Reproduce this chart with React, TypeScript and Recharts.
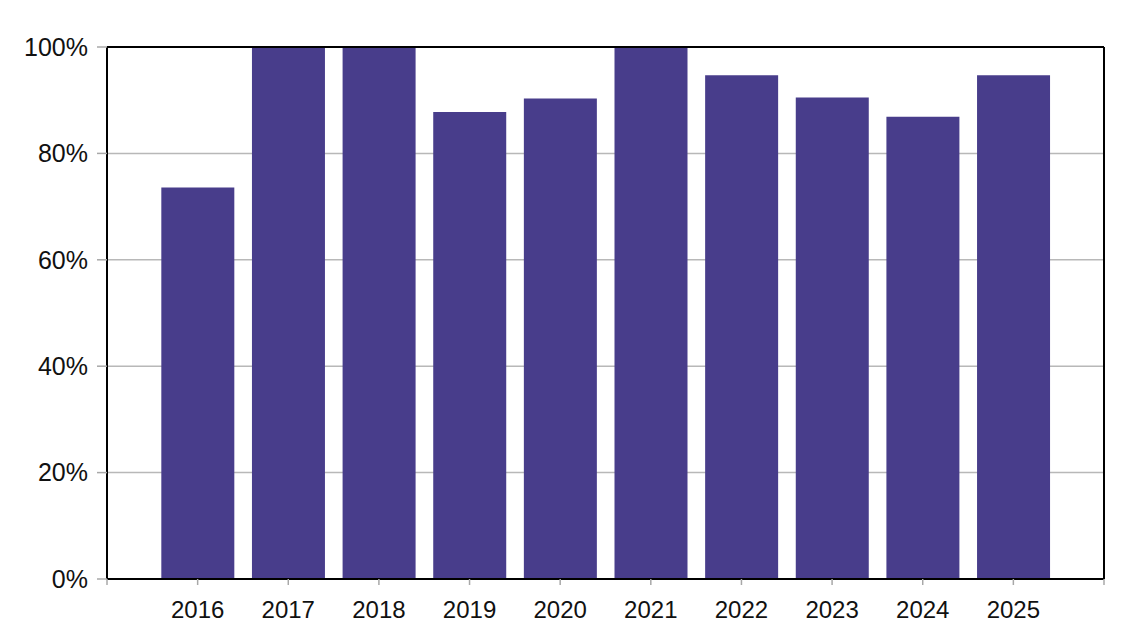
import { BarChart, Bar, XAxis, YAxis, CartesianGrid, ReferenceLine } from "recharts";

const years = [2016, 2017, 2018, 2019, 2020, 2021, 2022, 2023, 2024, 2025];
const shares = [73.6, 100, 100, 87.8, 90.3, 100, 94.7, 90.5, 86.9, 94.7];
const xTicks = [2015, 2016, 2017, 2018, 2019, 2020, 2021, 2022, 2023, 2024, 2025, 2026];
const yTicks = [0, 20, 40, 60, 80, 100];

const data = years.map((year, i) => ({ year, share: shares[i] }));

const font = "'Liberation Sans', Arial, sans-serif";

export default function App() {
  return (
    <div style={{ fontFamily: font }}>
      <BarChart
        width={1126}
        height={626}
        data={data}
        margin={{ top: 39, right: 30, left: 0, bottom: 5 }}
      >
        <CartesianGrid vertical={false} stroke="#b8b8b8" strokeWidth={1.5} />
        <XAxis
          dataKey="year"
          type="number"
          domain={[2015, 2026]}
          ticks={xTicks}
          interval={0}
          height={50}
          tickFormatter={(v) => (v === 2015 || v === 2026 ? "" : String(v))}
          axisLine={{ stroke: "#000", strokeWidth: 2 }}
          tickLine={{ stroke: "#a8a8a8", strokeWidth: 1.5 }}
          tickSize={6}
          tickMargin={16}
          tick={{ fill: "#111", fontSize: 24, fontFamily: font }}
        />
        <YAxis
          domain={[0, 100]}
          ticks={yTicks}
          width={99}
          tickFormatter={(v) => `${v}%`}
          axisLine={{ stroke: "#000", strokeWidth: 2 }}
          tickLine={{ stroke: "#a8a8a8", strokeWidth: 1.5 }}
          tickSize={10}
          tickMargin={9}
          tick={{ fill: "#111", fontSize: 25, fontFamily: font }}
        />
        <Bar dataKey="share" fill="#483D8B" barSize={73} isAnimationActive={false} />
        <ReferenceLine y={100} stroke="#000" strokeWidth={2} />
        <ReferenceLine x={2026} stroke="#000" strokeWidth={2} />
      </BarChart>
    </div>
  );
}
